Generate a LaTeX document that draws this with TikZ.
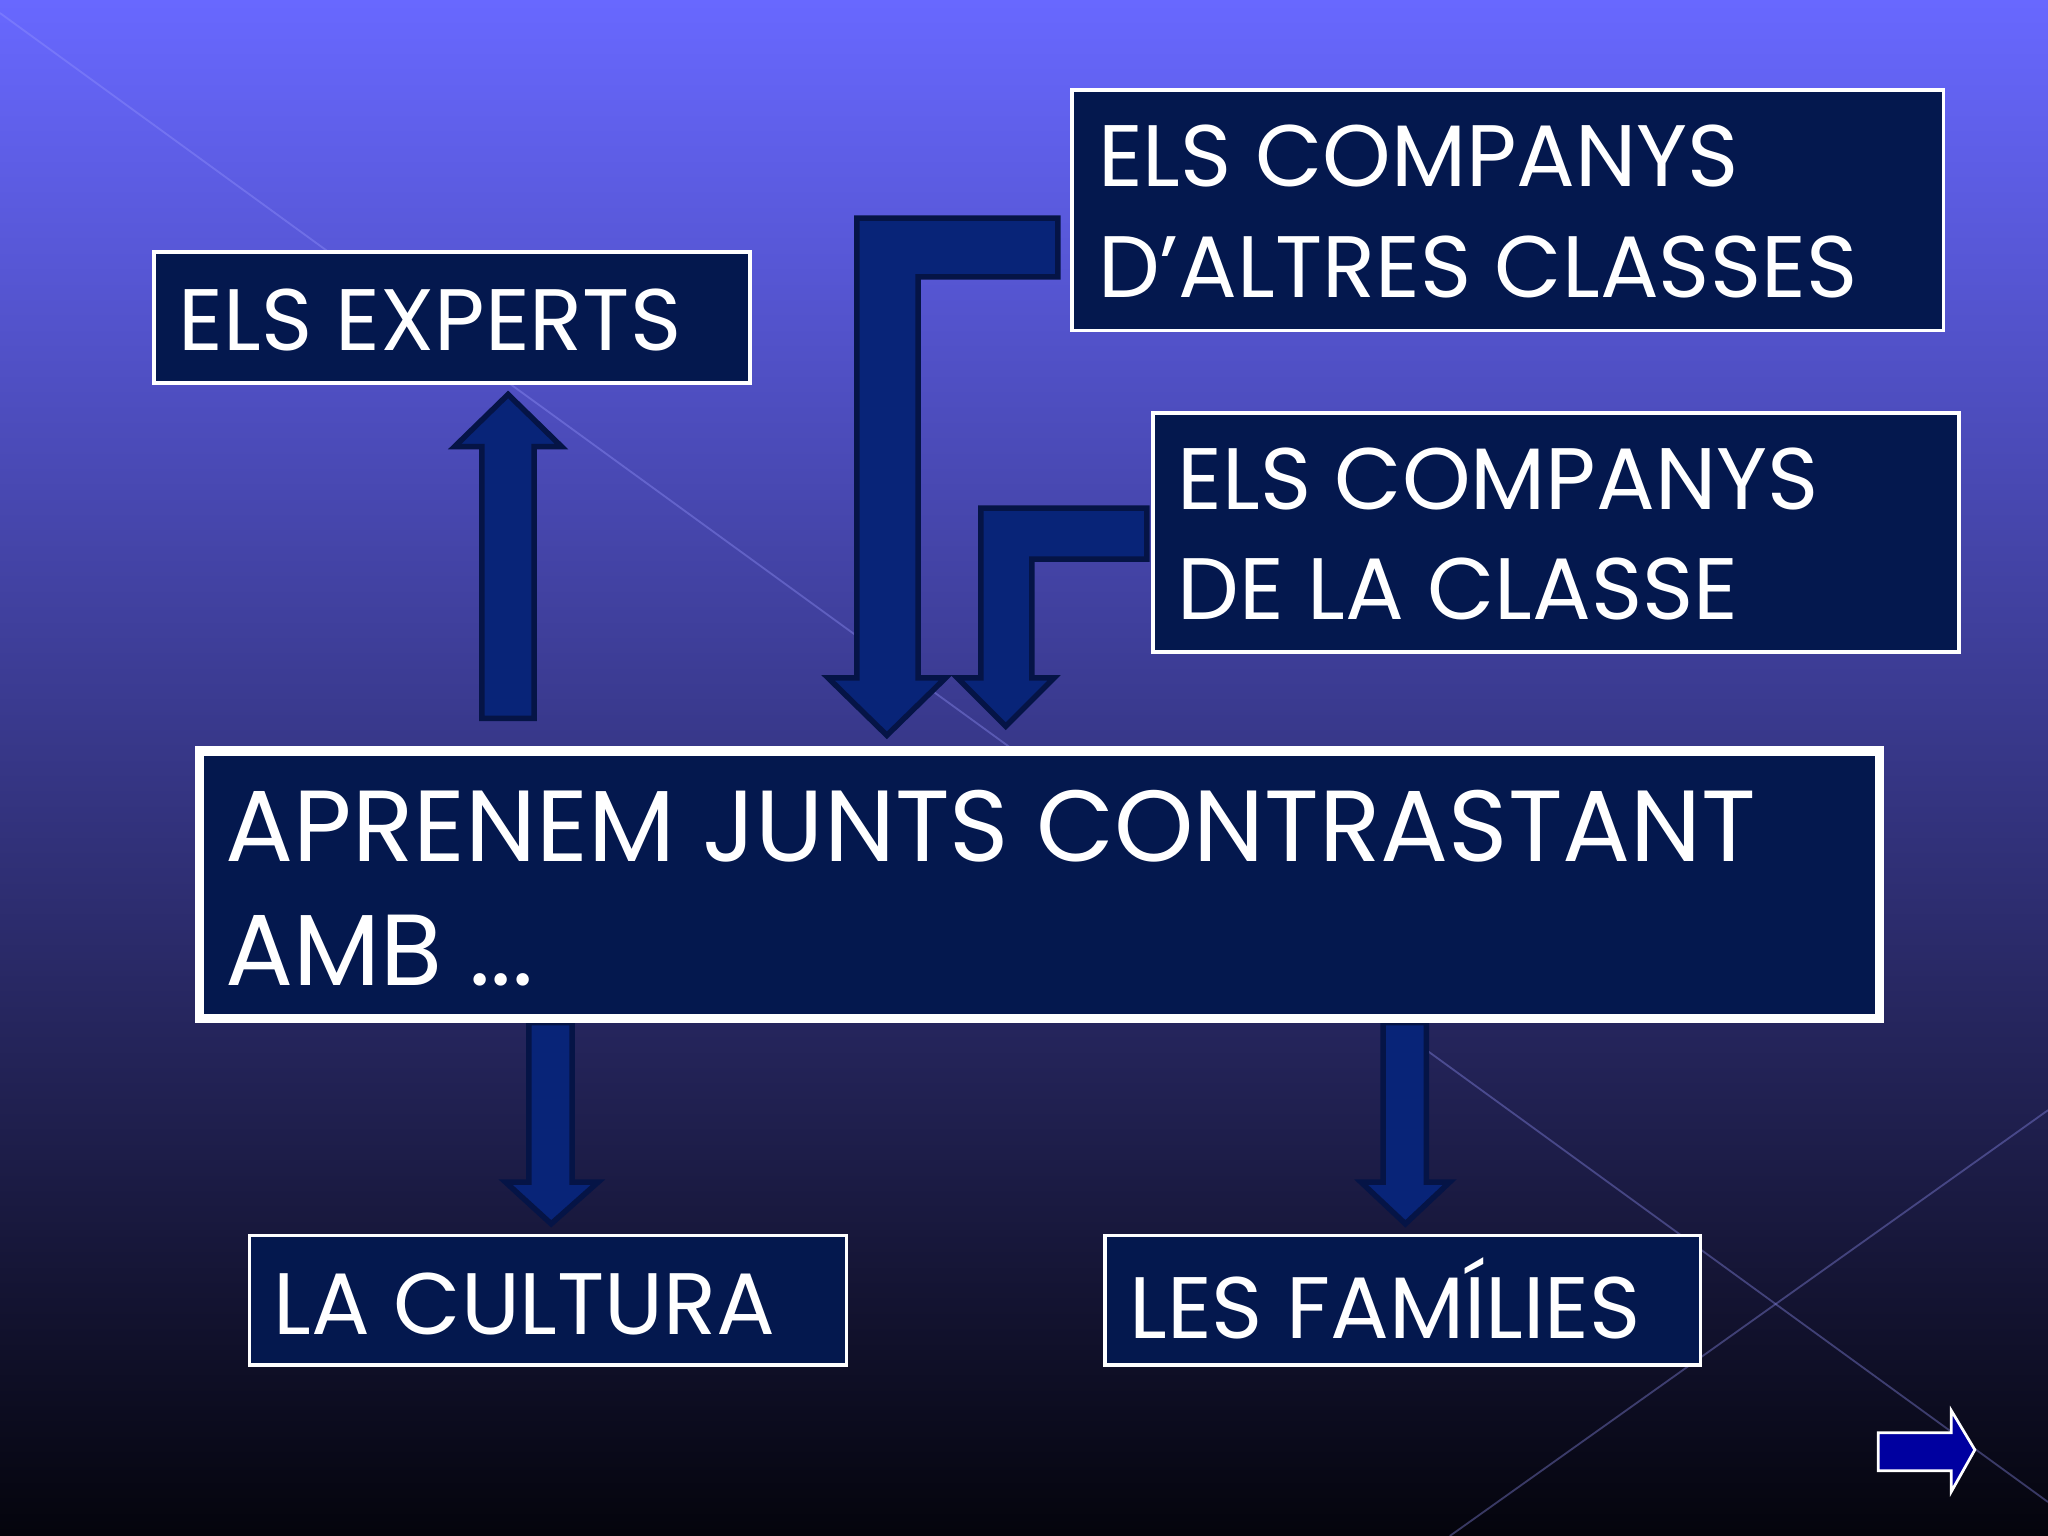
\documentclass[tikz,border=0pt]{standalone}
\usepackage{fontspec}
\setmainfont{Poppins}
\begin{document}
\begin{tikzpicture}[x=0.01cm,y=-0.01cm,
  boxd/.style={draw=white,line width=0.8pt,fill={rgb,255:red,4;green,24;blue,78}},
  lbl/.style={anchor=west,text=white,align=left,inner sep=0pt,font=\fontsize{19}{24}\selectfont},
  arr/.style={fill={rgb,255:red,8;green,36;blue,120},draw={rgb,255:red,5;green,20;blue,70},line width=1.2pt}]
\useasboundingbox (0,0) rectangle (1568,1176);
\shade[top color={rgb,255:red,104;green,104;blue,255},middle color={rgb,255:red,58;green,58;blue,160},bottom color={rgb,255:red,4;green,4;blue,12}] (0,0) rectangle (1568,1176);
\draw[white!60!blue,opacity=0.35,line width=0.4pt] (0,10) -- (1568,1150);
\draw[white!60!blue,opacity=0.35,line width=0.4pt] (1568,850) -- (1110,1176);
% arrows
\draw[arr] (369,550) -- (369,342) -- (348,342) -- (389,302) -- (430,342) -- (409,342) -- (409,550) -- cycle;
\draw[arr] (810,167) -- (656,167) -- (656,519) -- (634,519) -- (679,563) -- (724,519) -- (703,519) -- (703,212) -- (810,212) -- cycle;
\draw[arr] (878,389) -- (751,389) -- (751,519) -- (733,519) -- (770,556) -- (807,519) -- (790,519) -- (790,428) -- (878,428) -- cycle;
\draw[arr] (405,783) -- (405,905) -- (387,905) -- (422,937) -- (458,905) -- (438,905) -- (438,783) -- cycle;
\draw[arr] (1059,783) -- (1059,905) -- (1042,905) -- (1076,937) -- (1110,905) -- (1092,905) -- (1092,783) -- cycle;
\draw[fill={rgb,255:red,0;green,0;blue,160},draw=white,line width=0.6pt] (1438,1097) -- (1494,1097) -- (1494,1080) -- (1512,1110) -- (1494,1142) -- (1494,1126) -- (1438,1126) -- cycle;
% boxes
\draw[boxd] (118,193) rectangle (574,293);
\node[lbl] (exp) at (136,245) {ELS EXPERTS};
\draw[boxd] (821,69) rectangle (1488,253);
\node[lbl] (alt) at (840,162) {ELS COMPANYS\\D’ALTRES CLASSES};
\draw[boxd] (883,316) rectangle (1500,499);
\node[lbl] (cla) at (901,409) {ELS COMPANYS\\DE LA CLASSE};
\draw[boxd,line width=2pt] (153,575) rectangle (1439,780);
\node[lbl,font=\fontsize{22}{27}\selectfont] (main) at (172,680) {APRENEM JUNTS CONTRASTANT\\AMB ...};
\draw[boxd] (191,946) rectangle (648,1045);
\node[lbl] (cul) at (209,998) {LA CULTURA};
\draw[boxd] (846,946) rectangle (1302,1045);
\node[lbl] (fam) at (864,994) {LES FAMÍLIES};
\end{tikzpicture}
\end{document}
